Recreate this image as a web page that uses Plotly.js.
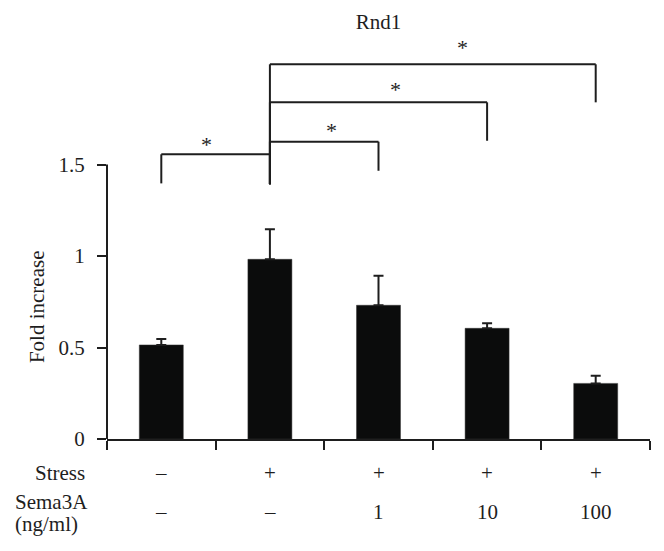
<!DOCTYPE html>
<html>
<head>
<meta charset="utf-8">
<script src="https://cdn.plot.ly/plotly-3.0.1.min.js"></script>
<style>html,body{margin:0;padding:0;background:#fff;}#chart{width:664px;height:551px;}</style>
</head>
<body>
<div id="chart"></div>
<script>
// ---- data ----
const categories = ['Control', 'Stress', 'Stress+Sema3A 1', 'Stress+Sema3A 10', 'Stress+Sema3A 100'];
const foldIncrease = [0.514, 0.982, 0.731, 0.605, 0.304];
const errorUp = [0.032, 0.164, 0.161, 0.027, 0.042];
const stressRow = ['\u2013', '+', '+', '+', '+'];
const semaRow = ['\u2013', '\u2013', '1', '10', '100'];
const yTickVals = [0, 0.5, 1, 1.5];
const yTickText = ['0', '0.5', '1', '1.5'];
const comparisons = [[0, 1], [1, 2], [1, 3], [1, 4]];
const significance = ['*', '*', '*', '*'];

// ---- style / layout constants ----
const FONT = '"Liberation Serif", "Times New Roman", serif';
const FS = 21;
const INK = '#1e1e1e';
const bracketTop = [1.556, 1.625, 1.840, 2.048];
const legBottomLeft = [1.397, 1.392, 1.392, 1.392];
const legBottomRight = [1.392, 1.466, 1.630, 1.840];
const starX = [0.415, 1.57, 2.16, 2.77];
const starY = [1.616, 1.689, 1.916, 2.144];

const shapes = [];
const annotations = [];
const lineStyle = {color: INK, width: 2};

// y axis line only from 0 to 1.5
shapes.push({type: 'line', xref: 'paper', yref: 'y', x0: 0, x1: 0, y0: 0, y1: yTickVals[yTickVals.length - 1], line: lineStyle});

comparisons.forEach(function (c, i) {
  const a = c[0], b = c[1];
  shapes.push({type: 'line', xref: 'x', yref: 'y', x0: a, x1: b, y0: bracketTop[i], y1: bracketTop[i], line: lineStyle});
  shapes.push({type: 'line', xref: 'x', yref: 'y', x0: a, x1: a, y0: bracketTop[i], y1: legBottomLeft[i], line: lineStyle});
  shapes.push({type: 'line', xref: 'x', yref: 'y', x0: b, x1: b, y0: bracketTop[i], y1: legBottomRight[i], line: lineStyle});
  annotations.push({xref: 'x', yref: 'y', x: starX[i], y: starY[i], text: significance[i], showarrow: false,
    font: {family: FONT, size: 22, color: INK}, xanchor: 'center', yanchor: 'middle', yshift: -1});
});

categories.forEach(function (cat, i) {
  annotations.push({xref: 'x', yref: 'paper', x: i, y: -0.0811, text: stressRow[i], showarrow: false,
    font: {family: FONT, size: FS, color: INK}, xanchor: 'center', yanchor: 'middle'});
  annotations.push({xref: 'x', yref: 'paper', x: i, y: -0.1735, text: semaRow[i], showarrow: false,
    font: {family: FONT, size: FS, color: INK}, xanchor: 'center', yanchor: 'middle'});
});
annotations.push({xref: 'paper', yref: 'paper', x: -0.0363, y: -0.0811, text: 'Stress', showarrow: false,
  font: {family: FONT, size: FS, color: INK}, xanchor: 'right', yanchor: 'middle'});
annotations.push({xref: 'paper', yref: 'paper', x: -0.1726, y: -0.1496, text: 'Sema3A', showarrow: false,
  font: {family: FONT, size: FS, color: INK}, xanchor: 'left', yanchor: 'middle'});
annotations.push({xref: 'paper', yref: 'paper', x: -0.1726, y: -0.2029, text: '(ng/ml)', showarrow: false,
  font: {family: FONT, size: FS, color: INK}, xanchor: 'left', yanchor: 'middle'});
// y-axis title, centred on the drawn part of the axis
annotations.push({xref: 'paper', yref: 'y', x: -0.1289, y: 0.721, text: 'Fold increase', textangle: -90, showarrow: false,
  font: {family: FONT, size: FS, color: INK}, xanchor: 'center', yanchor: 'middle'});

const trace = {
  type: 'bar',
  x: categories,
  y: foldIncrease,
  width: 0.405,
  marker: {color: '#0b0c0c', line: {color: '#333', width: 0.5}},
  error_y: {type: 'data', symmetric: false, array: errorUp, arrayminus: errorUp.map(function () { return 0; }),
    color: INK, thickness: 2, width: 5},
  hoverinfo: 'none'
};

const layout = {
  width: 664, height: 551,
  margin: {l: 107, r: 14, t: 20, b: 112},
  paper_bgcolor: '#fff', plot_bgcolor: '#fff',
  showlegend: false,
  font: {family: FONT, size: FS, color: INK},
  title: {text: 'Rnd1', x: 0.5, xref: 'paper', xanchor: 'center', y: 0.9606, yref: 'container', yanchor: 'middle',
    font: {family: FONT, size: FS, color: INK}},
  xaxis: {
    type: 'category', range: [-0.5, 4.5], showline: true, linecolor: INK, linewidth: 2,
    ticks: 'outside', tickson: 'boundaries', ticklen: 9, tickwidth: 2, tickcolor: INK,
    showticklabels: false, showgrid: false, zeroline: false, fixedrange: true
  },
  yaxis: {
    range: [0, 2.29], showline: false, showgrid: false, zeroline: false,
    tickmode: 'array', tickvals: yTickVals, ticktext: yTickText,
    ticks: 'outside', ticklen: 9, tickwidth: 2, tickcolor: INK, ticklabelstandoff: 8,
    tickfont: {family: FONT, size: FS, color: INK},
    fixedrange: true
  },
  shapes: shapes,
  annotations: annotations
};

Plotly.newPlot('chart', [trace], layout, {displayModeBar: false, staticPlot: true});
</script>
</body>
</html>
